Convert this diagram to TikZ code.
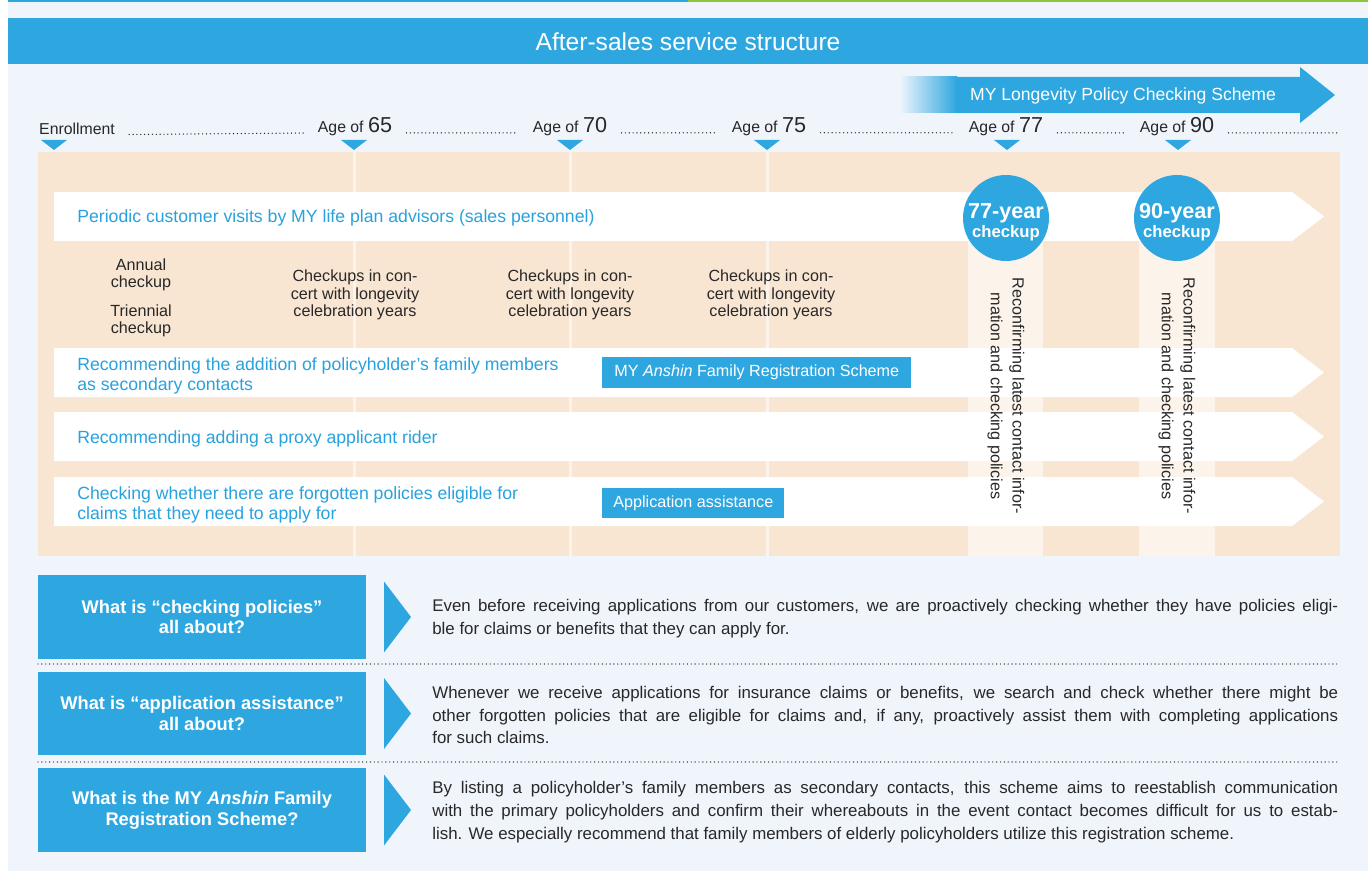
\documentclass[tikz,border=0pt]{standalone}
\usepackage{fontspec}
\setmainfont{Liberation Sans}

\definecolor{myblue}{RGB}{46,167,224}
\definecolor{txtblue}{RGB}{40,162,222}
\definecolor{mygreen}{RGB}{140,198,63}
\definecolor{pagebg}{RGB}{240,245,252}
\definecolor{peach}{RGB}{248,230,210}
\definecolor{lightpeach}{RGB}{252,244,234}
\definecolor{txtgray}{RGB}{40,40,40}

\newcommand\agenum[1]{Age of {\fontsize{12.3pt}{13pt}\selectfont #1}}
% a full, justified line of the answer texts
\newcommand\jline[1]{\makebox[18.12cm][s]{#1}}

\begin{document}
\begin{tikzpicture}[x=0.02cm, y=-0.02cm,
	every node/.style={inner sep=0pt},
	bandtxt/.style={anchor=west, align=left, text=txtblue, font=\fontsize{10.05pt}{11.3pt}\selectfont},
	checktxt/.style={align=center, text=txtgray, font=\fontsize{9.2pt}{9.9pt}\selectfont},
	agelbl/.style={text=txtgray, font=\fontsize{9pt}{10pt}\selectfont},
	tagbox/.style={fill=myblue, text=white, anchor=west, minimum height=0.61cm, font=\fontsize{9.2pt}{10pt}\selectfont},
	yearcircle/.style={circle, fill=myblue, minimum size=1.72cm},
	yeartxt/.style={text=white, align=center, font=\bfseries},
	vtxt/.style={rotate=-90, align=center, text=txtgray, font=\fontsize{9.2pt}{12.4pt}\selectfont},
	qbox/.style={fill=myblue, text=white, align=center, minimum width=6.56cm, minimum height=1.68cm, font=\bfseries\fontsize{10.4pt}{11.9pt}\selectfont},
	desc/.style={anchor=west, align=left, text=txtgray, font=\fontsize{9.6pt}{13pt}\selectfont},
	dotline/.style={txtgray, line width=0.8pt, line cap=round, dash pattern=on 0pt off 2.2pt}
	]
	\useasboundingbox (0,0) rectangle (1368,871);

	% page and title bar
	\fill[pagebg] (8,0) rectangle (1368,871);
	\fill[myblue] (8,0) rectangle (688,2.5);
	\fill[mygreen] (688,0) rectangle (1368,2.5);
	\fill[myblue] (8,18) rectangle (1368,64);
	\node[text=white, font=\fontsize{14pt}{16pt}\selectfont] (title) at (688,42) {After-sales service structure};

	% longevity scheme arrow
	\shade[left color=pagebg, right color=myblue] (899,77) rectangle (957,113);
	\fill[myblue] (956,77) -- (1300,77) -- (1300,67) -- (1335,95) -- (1300,123) -- (1300,113) -- (956,113) -- cycle;
	\node[text=white, font=\fontsize{10pt}{11pt}\selectfont] (longevity) at (1123,96) {MY Longevity Policy Checking Scheme};

	% timeline
	\node[agelbl] (enroll) at (77,129) {Enrollment};
	\node[agelbl] (age65) at (355,127) {\agenum{65}};
	\node[agelbl] (age70) at (570,127) {\agenum{70}};
	\node[agelbl] (age75) at (769,127) {\agenum{75}};
	\node[agelbl] (age77) at (1006,127) {\agenum{77}};
	\node[agelbl] (age90) at (1177,127) {\agenum{90}};
	\coordinate (tlend) at (1340,132);

	\draw[dotline, shorten <=8pt, shorten >=8pt] (enroll.base east) -- (age65.base west);
	\draw[dotline, shorten <=8pt, shorten >=8pt] (age65.base east) -- (age70.base west);
	\draw[dotline, shorten <=8pt, shorten >=8pt] (age70.base east) -- (age75.base west);
	\draw[dotline, shorten <=8pt, shorten >=8pt] (age75.base east) -- (age77.base west);
	\draw[dotline, shorten <=8pt, shorten >=8pt] (age77.base east) -- (age90.base west);
	\draw[dotline, shorten <=8pt] (age90.base east) -- (tlend |- age90.base);

	\foreach \x in {54,354,570,767,1007,1178}
		\fill[myblue] (\x-13,140) -- (\x+13,140) -- (\x,150) -- cycle;

	% panel with age columns
	\fill[peach] (38,152) rectangle (1340,556);
	\foreach \x in {354,570,767}
		\fill[lightpeach] (\x-1.5,152) rectangle (\x+1.5,556);
	\fill[lightpeach] (968,192) rectangle (1043,556);
	\fill[lightpeach] (1139,192) rectangle (1215,556);

	\foreach \y in {192,348,412,477}
		\fill[white] (54,\y) -- (1292,\y) -- (1324,\y+24.5) -- (1292,\y+49) -- (54,\y+49) -- cycle;

	\node[bandtxt] (visits) at (77,218) {Periodic customer visits by MY life plan advisors (sales personnel)};
	\node[bandtxt] (family) at (77,376) {Recommending the addition of policyholder’s family members\\as secondary contacts};
	\node[bandtxt] (proxy) at (77,439) {Recommending adding a proxy applicant rider};
	\node[bandtxt] (forgot) at (77,505) {Checking whether there are forgotten policies eligible for\\claims that they need to apply for};

	\node[tagbox, minimum width=6.18cm] (anshin) at (602,372.5) {MY \textit{Anshin} Family Registration Scheme};
	\node[tagbox, minimum width=3.64cm] (assist) at (602,503) {Application assistance};

	\node[checktxt] (annual) at (141,275) {Annual\\checkup};
	\node[checktxt] (triennial) at (141,321) {Triennial\\checkup};
	\node[checktxt] (cel65) at (355,295) {Checkups in con-\\cert with longevity\\celebration years};
	\node[checktxt] (cel70) at (570,295) {Checkups in con-\\cert with longevity\\celebration years};
	\node[checktxt] (cel75) at (771,295) {Checkups in con-\\cert with longevity\\celebration years};

	% checkups at 77 and 90
	\node[yearcircle] (c77) at (1006,218) {};
	\node[yearcircle] (c90) at (1177,218) {};
	\node[yeartxt] at ([yshift=-2.3pt]c77.center) {{\fontsize{12.3pt}{13pt}\selectfont 77-year}\\[-1pt]{\fontsize{9.5pt}{10pt}\selectfont checkup}};
	\node[yeartxt] at ([yshift=-2.3pt]c90.center) {{\fontsize{12.3pt}{13pt}\selectfont 90-year}\\[-1pt]{\fontsize{9.5pt}{10pt}\selectfont checkup}};
	\node[vtxt] (recon77) at (1006,396) {Reconfirming latest contact infor-\\mation and checking policies};
	\node[vtxt] (recon90) at (1177,396) {Reconfirming latest contact infor-\\mation and checking policies};

	% questions and answers
	\node[qbox] (q1) at (202,617) {What is “checking policies”\\all about?};
	\node[qbox] (q2) at (202,713.5) {What is “application assistance”\\all about?};
	\node[qbox] (q3) at (202,810) {What is the MY \textit{Anshin} Family\\Registration Scheme?};

	\foreach \q in {q1,q2,q3}
		\fill[myblue] (384,0 |- \q.center) ++(0,-35.5) -- ++(27,35.5) -- ++(-27,35.5) -- cycle;

	\node[desc] (a1) at (432,619) {\jline{Even before receiving applications from our customers, we are proactively checking whether they have policies eligi-}\\
		ble for claims or benefits that they can apply for.};
	\node[desc] (a2) at (432,715) {\jline{Whenever we receive applications for insurance claims or benefits, we search and check whether there might be}\\
		\jline{other forgotten policies that are eligible for claims and, if any, proactively assist them with completing applications}\\
		for such claims.};
	\node[desc] (a3) at (432,812) {\jline{By listing a policyholder’s family members as secondary contacts, this scheme aims to reestablish communication}\\
		\jline{with the primary policyholders and confirm their whereabouts in the event contact becomes difficult for us to estab-}\\
		lish. We especially recommend that family members of elderly policyholders utilize this registration scheme.};

	\draw[dotline] (38,664) -- (1340,664);
	\draw[dotline] (38,762) -- (1340,762);
\end{tikzpicture}
\end{document}
